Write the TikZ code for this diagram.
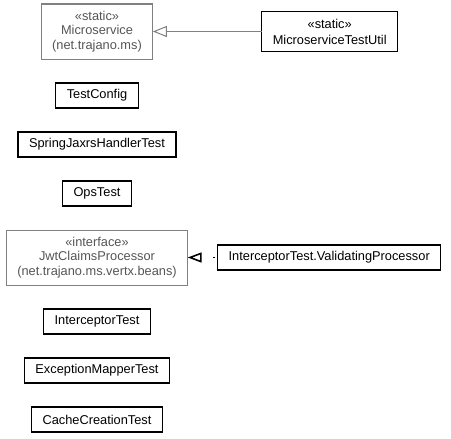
\documentclass[tikz,border=0pt]{standalone}
\usepackage{fontspec}
\setmainfont{Liberation Sans}
\usetikzlibrary{arrows.meta,positioning}
\definecolor{umlgray}{RGB}{128,128,128}
\definecolor{umltext}{RGB}{85,85,85}
\tikzset{%
	classbox/.style = {draw, rectangle, line width=1.2pt, outer sep=0pt, minimum height=25pt, inner xsep=11pt, align=center},
	extbox/.style   = {draw=umlgray, text=umltext, rectangle, line width=1pt, outer sep=0pt, minimum height=55pt, inner xsep=11pt, align=center},
	extends/.style  = {draw=umlgray, line width=1pt, -{Triangle[open,length=14pt,width=11pt]}},
	realizes/.style = {line width=1pt, dash pattern=on 2pt off 13pt, dash phase=12pt, -{Triangle[open,length=14pt,width=10pt,line width=1.6pt]}},
}

\begin{document}
\begin{tikzpicture}[x=1pt,y=-1pt,node distance=24pt,font=\fontsize{12.8}{14.5}\selectfont]
		\useasboundingbox (0,0) rectangle (451,439);
		\node[extbox] (ms) at (97,31.5) {«static»\\Microservice\\(net.trajano.ms)};
		\node[classbox, minimum height=40pt, right=109pt of ms] (mstu) {«static»\\[1.5pt]MicroserviceTestUtil};
		\node[classbox, below=of ms] (tc) {TestConfig};
		\node[classbox, below=of tc] (sjht) {SpringJaxrsHandlerTest};
		\node[classbox, below=of sjht] (ops) {OpsTest};
		\node[extbox, below=of ops] (jwt) {«interface»\\JwtClaimsProcessor\\(net.trajano.ms.vertx.beans)};
		\node[classbox, right=30pt of jwt] (vp) {InterceptorTest.ValidatingProcessor};
		\node[classbox, below=of jwt] (it) {InterceptorTest};
		\node[classbox, below=of it] (emt) {ExceptionMapperTest};
		\node[classbox, below=of emt] (cct) {CacheCreationTest};
		\draw[extends] (mstu) -- (ms);  % static nested class
		\draw[realizes] (vp) -- (jwt);  % implements
	\end{tikzpicture}
\end{document}
